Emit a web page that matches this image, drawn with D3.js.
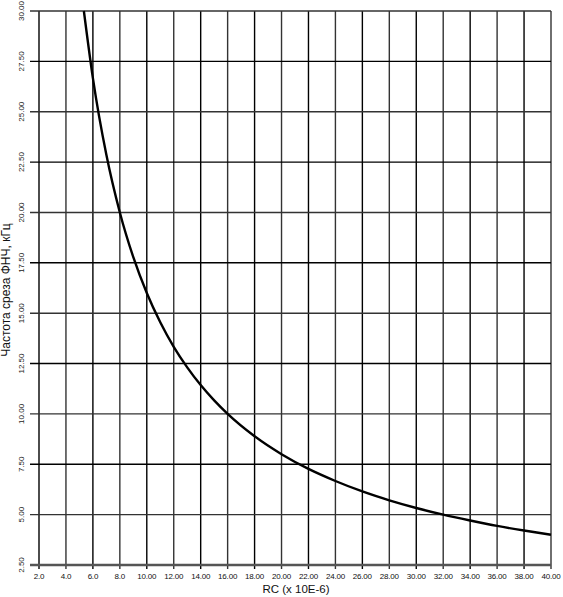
<!DOCTYPE html>
<html>
<head>
<meta charset="utf-8">
<script src="https://cdn.jsdelivr.net/npm/d3@7"></script>
<style>
  body { margin: 0; background: #fff; }
  svg { display: block; }
</style>
</head>
<body>
<svg id="chart"></svg>
<script>
// values
var rcValues   = [5.33, 6, 7, 8, 9, 10, 11, 12, 13, 14, 15, 16, 18, 20, 22, 24, 26, 28, 30, 32, 34, 36, 38, 40];
var freqValues = [30.0, 26.67, 22.86, 20.0, 17.78, 16.0, 14.55, 13.33, 12.31, 11.43, 10.67, 10.0, 8.89, 8.0, 7.27, 6.67, 6.15, 5.71, 5.33, 5.0, 4.71, 4.44, 4.21, 4.0];
var xTicks = [2, 4, 6, 8, 10, 12, 14, 16, 18, 20, 22, 24, 26, 28, 30, 32, 34, 36, 38, 40];
var xTickLabels = ["2.0", "4.0", "6.0", "8.0", "10.00", "12.00", "14.00", "16.00", "18.00", "20.00",
                   "22.00", "24.00", "26.00", "28.00", "30.00", "32.00", "34.00", "36.00", "38.00", "40.00"];
var yTicks = [2.5, 5, 7.5, 10, 12.5, 15, 17.5, 20, 22.5, 25, 27.5, 30];
var yTickLabels = ["2.50", "5.00", "7.50", "10.00", "12.50", "15.00", "17.50", "20.00", "22.50", "25.00", "27.50", "30.00"];

var width = 563;
var height = 597;
var plotLeft = 39, plotRight = 551, plotTop = 11, plotBottom = 565;

var svg = d3.select("#chart")
            .attr("width", width)
            .attr("height", height);

var x = d3.scaleLinear().domain([2, 40]).range([plotLeft, plotRight]);
var y = d3.scaleLinear().domain([2.5, 30]).range([plotBottom, plotTop]);

/*grid*/
svg.append("g")
   .selectAll("line")
   .data(xTicks)
   .enter()
   .append("line")
   .attr("x1", function(d) { return x(d); })
   .attr("x2", function(d) { return x(d); })
   .attr("y1", plotTop)
   .attr("y2", plotBottom + 4)
   .attr("stroke", function(d, i) { return i % 2 ? "#333" : "#000"; })
   .attr("stroke-width", 1.4);

svg.append("g")
   .selectAll("line")
   .data(yTicks)
   .enter()
   .append("line")
   .attr("x1", plotLeft - 9)
   .attr("x2", plotRight)
   .attr("y1", function(d) { return y(d); })
   .attr("y2", function(d) { return y(d); })
   .attr("stroke", function(d, i) { return i == 0 ? "#555" : (i % 2 ? "#333" : "#000"); })
   .attr("stroke-width", function(d, i) { return i == 0 ? 2.5 : 1.4; });

/*tick labels*/
svg.append("g")
   .selectAll("text")
   .data(xTicks)
   .enter()
   .append("text")
   .text(function(d, i) { return xTickLabels[i]; })
   .attr("x", function(d) { return x(d); })
   .attr("y", 579)
   .attr("text-anchor", "middle")
   .attr("font-family", "Liberation Sans, Arial, sans-serif")
   .attr("font-size", 8)
   .attr("letter-spacing", -0.2)
   .attr("fill", "#111");

svg.append("g")
   .selectAll("text")
   .data(yTicks)
   .enter()
   .append("text")
   .text(function(d, i) { return yTickLabels[i]; })
   .attr("transform", function(d) { return "translate(24," + y(d) + ") rotate(-90)"; })
   .attr("text-anchor", "middle")
   .attr("font-family", "Liberation Sans Narrow, Liberation Sans, Arial, sans-serif")
   .attr("font-size", 8)
   .attr("fill", "#222");

/*axis titles*/
svg.append("text")
   .text("RC (x 10E-6)")
   .attr("x", 296)
   .attr("y", 593)
   .attr("text-anchor", "middle")
   .attr("font-family", "Liberation Sans, Arial, sans-serif")
   .attr("font-size", 11.5)
   .attr("fill", "#111");

svg.append("text")
   .text("Частота среза ФНЧ, кГц")
   .attr("transform", "translate(10,290) rotate(-90)")
   .attr("text-anchor", "middle")
   .attr("font-family", "Liberation Sans, Arial, sans-serif")
   .attr("font-size", 12)
   .attr("fill", "#111");

/*curve*/
var line = d3.line()
             .x(function(d) { return x(d[0]); })
             .y(function(d) { return y(d[1]); })
             .curve(d3.curveMonotoneX);

svg.append("path")
   .datum(d3.zip(rcValues, freqValues))
   .attr("d", line)
   .attr("fill", "none")
   .attr("stroke", "#000")
   .attr("stroke-width", 2.4);
</script>
</body>
</html>
